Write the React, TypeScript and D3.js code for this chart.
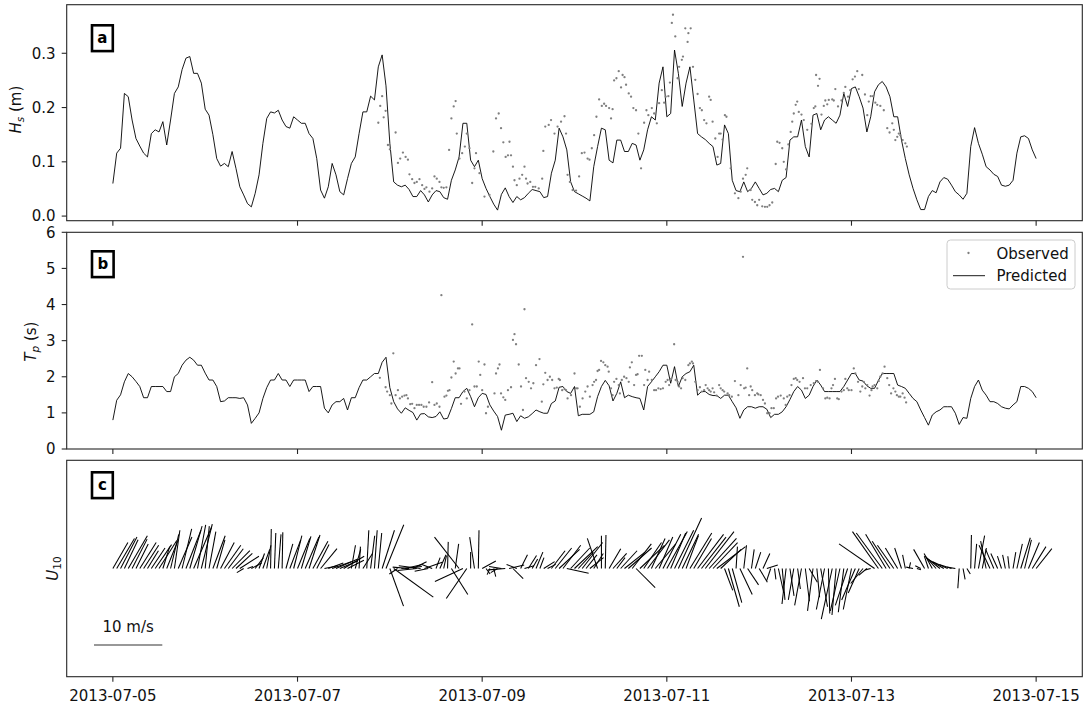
import React from "react";
import * as d3 from "d3";

// ---- time base -------------------------------------------------------------
const startUtc = Date.UTC(2013, 6, 5);
const hourMs = 3600 * 1000;
const toDate = (h: number) => new Date(startUtc + h * hourMs);
const parseDay = d3.utcParse("%Y-%m-%d");

// ---- axis ticks ------------------------------------------------------------
const dateTicks = ["2013-07-05", "2013-07-07", "2013-07-09", "2013-07-11", "2013-07-13", "2013-07-15"];
const hsTicks = [0, 0.1, 0.2, 0.3];
const tpTicks = [0, 1, 2, 3, 4, 5, 6];

// ---- model output, hourly from 2013-07-05 00:00 ----------------------------
const predStepHours = 1;
const predHs = [
  0.060, 0.116, 0.125, 0.226, 0.220, 0.177, 0.143, 0.129, 0.116, 0.109, 0.152, 0.159, 0.155, 0.174, 0.131, 0.177,
  0.226, 0.238, 0.270, 0.291, 0.294, 0.263, 0.263, 0.245, 0.197, 0.186, 0.150, 0.106, 0.092, 0.097, 0.091, 0.119,
  0.088, 0.054, 0.039, 0.023, 0.017, 0.042, 0.076, 0.134, 0.180, 0.192, 0.190, 0.195, 0.177, 0.165, 0.162, 0.183,
  0.177, 0.171, 0.171, 0.152, 0.143, 0.106, 0.048, 0.033, 0.054, 0.097, 0.076, 0.045, 0.039, 0.069, 0.097, 0.109,
  0.152, 0.192, 0.192, 0.221, 0.214, 0.275, 0.297, 0.240, 0.134, 0.063, 0.057, 0.054, 0.057, 0.049, 0.036, 0.036,
  0.047, 0.039, 0.026, 0.039, 0.047, 0.045, 0.034, 0.031, 0.066, 0.085, 0.109, 0.171, 0.171, 0.103, 0.091, 0.103,
  0.069, 0.051, 0.036, 0.022, 0.011, 0.040, 0.052, 0.036, 0.025, 0.036, 0.030, 0.034, 0.042, 0.049, 0.047, 0.045,
  0.034, 0.036, 0.079, 0.103, 0.162, 0.146, 0.122, 0.063, 0.045, 0.041, 0.037, 0.033, 0.028, 0.091, 0.128, 0.162,
  0.159, 0.103, 0.098, 0.140, 0.140, 0.119, 0.119, 0.134, 0.131, 0.103, 0.122, 0.159, 0.183, 0.177, 0.245, 0.275,
  0.183, 0.189, 0.306, 0.263, 0.202, 0.245, 0.275, 0.214, 0.152, 0.146, 0.141, 0.134, 0.128, 0.094, 0.097, 0.168,
  0.152, 0.066, 0.047, 0.045, 0.063, 0.045, 0.051, 0.063, 0.051, 0.039, 0.042, 0.049, 0.051, 0.045, 0.066, 0.071,
  0.140, 0.146, 0.146, 0.177, 0.128, 0.109, 0.186, 0.189, 0.159, 0.177, 0.183, 0.177, 0.171, 0.186, 0.226, 0.202,
  0.235, 0.238, 0.220, 0.199, 0.155, 0.183, 0.229, 0.242, 0.248, 0.238, 0.220, 0.183, 0.183, 0.140, 0.106, 0.076,
  0.051, 0.030, 0.012, 0.012, 0.036, 0.047, 0.043, 0.063, 0.071, 0.068, 0.057, 0.045, 0.039, 0.031, 0.042, 0.128,
  0.163, 0.134, 0.114, 0.091, 0.085, 0.077, 0.073, 0.057, 0.055, 0.057, 0.066, 0.116, 0.146, 0.148, 0.143, 0.122,
  0.106,
];
const predTp = [
  0.80, 1.35, 1.50, 1.86, 2.09, 2.00, 1.87, 1.73, 1.42, 1.42, 1.73, 1.73, 1.73, 1.73, 1.59, 1.59,
  2.00, 2.09, 2.32, 2.46, 2.54, 2.46, 2.32, 2.32, 2.10, 1.91, 1.91, 1.73, 1.31, 1.33, 1.42, 1.42,
  1.42, 1.40, 1.42, 1.22, 0.71, 0.85, 1.00, 1.40, 1.70, 1.91, 1.91, 2.09, 1.91, 1.91, 1.73, 1.91,
  1.91, 1.91, 1.91, 1.59, 1.73, 1.73, 1.73, 1.13, 1.00, 1.22, 1.31, 1.31, 1.40, 1.08, 1.42, 1.42,
  1.70, 1.91, 1.91, 2.00, 2.09, 2.09, 2.40, 2.54, 1.70, 1.31, 1.11, 0.99, 1.14, 1.07, 1.01, 0.80,
  0.97, 0.98, 0.89, 0.87, 0.90, 1.03, 0.83, 0.85, 1.12, 1.42, 1.42, 1.59, 1.68, 1.45, 1.17, 1.42,
  1.54, 1.51, 1.22, 1.05, 0.90, 0.52, 0.94, 0.96, 0.99, 0.76, 0.92, 0.85, 0.89, 0.98, 1.08, 1.03,
  0.99, 0.99, 1.26, 1.33, 1.71, 1.73, 1.59, 1.54, 1.73, 0.92, 0.96, 0.96, 0.96, 1.03, 1.45, 1.73,
  1.90, 1.75, 1.33, 1.54, 1.86, 1.42, 1.49, 1.45, 1.42, 1.40, 1.08, 1.73, 1.86, 2.00, 2.14, 2.32,
  2.32, 1.82, 2.28, 1.73, 2.00, 2.09, 2.14, 2.32, 1.49, 1.59, 1.59, 1.51, 1.48, 1.48, 1.40, 1.49,
  1.49, 1.31, 1.14, 0.85, 1.08, 1.17, 1.17, 1.13, 1.17, 1.17, 1.10, 0.87, 0.96, 0.96, 1.03, 1.17,
  1.37, 1.59, 1.73, 1.63, 1.40, 1.49, 1.73, 1.91, 1.77, 1.59, 1.59, 1.59, 1.59, 1.59, 1.73, 1.91,
  2.09, 2.09, 1.91, 1.88, 1.75, 1.68, 1.68, 1.90, 2.09, 2.09, 2.09, 2.09, 1.77, 1.73, 1.68, 1.54,
  1.40, 1.31, 1.08, 0.87, 0.66, 0.94, 1.03, 1.08, 1.17, 1.17, 1.17, 0.99, 0.68, 0.87, 0.85, 1.40,
  1.73, 1.91, 1.63, 1.49, 1.31, 1.31, 1.26, 1.17, 1.13, 1.11, 1.22, 1.31, 1.73, 1.73, 1.68, 1.59,
  1.42,
];

// ---- buoy observations (hours after 2013-07-05 00:00) -----------------------
const obsHsHours = [
  69.0, 69.5, 70.0, 70.4, 70.9, 71.5, 72.0, 73.5, 74.1, 74.7, 75.4, 76.1, 76.7, 77.1, 77.8, 78.4, 79.0, 79.7, 80.4, 81.0,
  81.5, 82.3, 83.0, 83.6, 84.2, 84.9, 85.4, 86.0, 86.7, 87.4, 88.0, 88.6, 89.1, 89.4, 90.1, 90.8, 91.5, 92.0, 92.7, 93.4,
  94.0, 94.4, 95.3, 96.6, 97.9, 98.9, 99.6, 100.3, 100.9, 101.5, 102.1, 102.7, 103.1, 103.5, 104.0, 104.4, 105.0, 105.7, 106.4, 107.0,
  107.4, 107.8, 108.5, 109.2, 109.8, 110.7, 111.6, 111.9, 112.4, 113.3, 113.9, 114.8, 115.6, 116.5, 117.4, 117.8, 118.2, 118.8, 119.5, 120.4,
  121.2, 121.9, 122.6, 123.4, 123.9, 124.5, 125.1, 125.7, 126.4, 127.1, 127.7, 128.2, 129.0, 129.5, 129.9, 130.3, 130.9, 131.5, 132.1, 132.5,
  133.0, 133.4, 134.1, 134.7, 135.3, 136.0, 136.6, 137.3, 138.1, 138.7, 139.2, 140.1, 140.7, 141.4, 142.0, 142.7, 143.3, 143.7, 144.4, 144.8,
  145.3, 145.6, 146.2, 146.8, 147.2, 147.9, 148.2, 148.8, 149.4, 149.6, 150.2, 150.8, 151.4, 152.0, 152.6, 153.1, 153.7, 154.3, 155.0, 155.4,
  155.9, 156.6, 157.2, 157.6, 158.0, 158.5, 159.1, 159.5, 160.6, 161.7, 162.6, 163.2, 163.8, 164.5, 164.9, 165.8, 166.2, 166.9, 167.5, 168.0,
  168.8, 169.5, 170.1, 170.7, 171.4, 172.3, 172.7, 173.3, 174.0, 174.4, 175.0, 175.6, 176.2, 176.6, 177.0, 177.5, 177.9, 178.3, 179.0, 179.6,
  180.5, 181.6, 182.2, 182.6, 182.8, 183.3, 183.7, 184.2, 184.8, 185.2, 185.7, 186.1, 187.0, 187.4, 187.8, 188.5, 189.4, 190.0, 190.4, 191.1,
  191.7, 192.3, 192.9, 193.5, 193.9, 194.8, 195.5, 196.1, 196.5, 197.0, 197.6, 198.2, 198.7, 199.5, 200.4, 201.3, 201.9, 202.6, 203.0, 203.4,
  203.9, 204.3, 204.7, 205.3, 206.0, 206.4,
];
const obsHsValues = [
  0.172, 0.203, 0.221, 0.182, 0.194, 0.131, 0.123, 0.154, 0.098, 0.106, 0.117, 0.109, 0.104, 0.077, 0.068, 0.061, 0.063, 0.068, 0.057, 0.050,
  0.053, 0.045, 0.051, 0.073, 0.069, 0.063, 0.053, 0.052, 0.053, 0.122, 0.180, 0.202, 0.212, 0.152, 0.106, 0.116, 0.128, 0.152, 0.125, 0.061,
  0.088, 0.116, 0.079, 0.036, 0.039, 0.119, 0.180, 0.189, 0.162, 0.136, 0.109, 0.112, 0.137, 0.112, 0.091, 0.066, 0.057, 0.069, 0.076, 0.091,
  0.069, 0.060, 0.063, 0.054, 0.054, 0.051, 0.069, 0.120, 0.165, 0.168, 0.177, 0.152, 0.165, 0.174, 0.184, 0.152, 0.076, 0.063, 0.048, 0.047,
  0.073, 0.116, 0.117, 0.106, 0.104, 0.125, 0.149, 0.183, 0.215, 0.203, 0.207, 0.203, 0.199, 0.180, 0.197, 0.250, 0.254, 0.267, 0.237, 0.260,
  0.256, 0.242, 0.226, 0.220, 0.199, 0.195, 0.152, 0.088, 0.172, 0.195, 0.186, 0.199, 0.189, 0.171, 0.208, 0.232, 0.209, 0.220, 0.221, 0.246,
  0.356, 0.371, 0.331, 0.254, 0.275, 0.288, 0.294, 0.346, 0.321, 0.337, 0.346, 0.275, 0.251, 0.225, 0.199, 0.195, 0.177, 0.171, 0.220, 0.214,
  0.174, 0.143, 0.109, 0.152, 0.152, 0.141, 0.186, 0.183, 0.088, 0.042, 0.033, 0.045, 0.069, 0.076, 0.088, 0.048, 0.030, 0.026, 0.020, 0.030,
  0.018, 0.017, 0.017, 0.020, 0.025, 0.096, 0.137, 0.135, 0.125, 0.100, 0.086, 0.132, 0.155, 0.174, 0.189, 0.205, 0.211, 0.192, 0.187, 0.177,
  0.159, 0.170, 0.199, 0.202, 0.260, 0.240, 0.253, 0.187, 0.203, 0.213, 0.206, 0.214, 0.215, 0.213, 0.234, 0.202, 0.213, 0.227, 0.238, 0.220,
  0.232, 0.252, 0.257, 0.267, 0.234, 0.260, 0.224, 0.186, 0.211, 0.221, 0.221, 0.209, 0.205, 0.203, 0.195, 0.162, 0.154, 0.171, 0.159, 0.140,
  0.146, 0.152, 0.149, 0.140, 0.134, 0.128,
];
const obsTpHours = [
  69.4, 70.9, 71.3, 72.0, 72.4, 72.9, 73.5, 74.1, 74.6, 75.2, 75.8, 76.3, 76.7, 77.3, 77.8, 78.4, 79.0, 79.6, 80.2, 80.8,
  81.5, 82.2, 83.0, 83.6, 84.2, 84.9, 85.4, 86.2, 86.7, 87.1, 87.5, 88.0, 88.6, 89.1, 89.7, 90.1, 90.5, 91.4, 92.0, 92.7,
  93.4, 94.0, 94.6, 95.1, 95.5, 96.0, 96.6, 97.0, 97.5, 99.2, 99.6, 100.1, 100.5, 100.9, 101.5, 102.0, 102.7, 103.5, 104.0, 104.4,
  104.8, 105.5, 106.1, 106.6, 107.0, 107.4, 108.1, 108.7, 109.3, 110.0, 110.9, 111.5, 111.9, 112.4, 113.0, 113.6, 114.2, 114.8, 115.4, 115.9,
  116.2, 116.8, 117.4, 117.8, 118.2, 119.1, 120.0, 120.4, 120.8, 121.4, 122.1, 122.8, 123.4, 124.0, 124.7, 125.1, 125.6, 126.0, 126.4, 126.9,
  127.5, 128.0, 128.6, 128.9, 129.5, 129.9, 130.3, 130.9, 131.5, 131.8, 132.3, 132.9, 133.5, 134.1, 134.4, 134.9, 135.5, 136.0, 136.4, 136.8,
  137.5, 138.1, 138.4, 139.0, 139.4, 140.1, 140.7, 141.2, 141.8, 142.4, 143.0, 143.7, 144.2, 144.6, 145.1, 145.9, 146.3, 146.8, 147.2, 147.7,
  148.1, 148.8, 149.6, 150.0, 150.5, 150.8, 151.4, 152.0, 152.6, 153.1, 153.7, 154.1, 154.6, 155.0, 155.4, 155.9, 156.3, 156.9, 157.6, 158.0,
  158.5, 158.9, 159.8, 160.2, 160.9, 161.7, 162.6, 163.2, 163.8, 164.1, 164.5, 164.9, 165.4, 165.8, 166.2, 166.9, 167.5, 167.8, 168.4, 169.0,
  169.5, 170.1, 170.7, 171.2, 171.8, 172.4, 172.9, 173.6, 174.4, 174.9, 175.3, 175.9, 176.4, 177.0, 177.5, 177.9, 178.5, 179.4, 179.9, 180.5,
  181.4, 182.2, 182.8, 183.3, 183.8, 184.6, 185.2, 185.7, 186.3, 186.8, 187.2, 187.7, 188.3, 188.7, 189.4, 190.0, 190.4, 190.9, 191.3, 192.0,
  192.6, 193.0, 193.7, 194.3, 194.8, 195.2, 195.6, 196.1, 196.7, 197.2, 197.5, 198.0, 198.7, 199.1, 199.5, 200.1, 200.6, 201.3, 201.8, 202.3,
  202.9, 203.4, 203.8, 204.3, 204.7, 205.3, 205.8, 206.2,
];
const obsTpValues = [
  1.97, 1.71, 1.59, 1.49, 1.26, 2.65, 1.49, 1.63, 1.40, 1.45, 1.48, 1.49, 1.40, 1.24, 1.25, 1.13, 1.22, 1.22, 1.22, 1.17,
  1.17, 1.29, 1.85, 1.22, 1.26, 1.17, 4.26, 1.45, 1.48, 1.61, 1.63, 1.98, 2.42, 2.09, 2.23, 2.23, 1.25, 1.59, 1.40, 1.63,
  3.45, 1.73, 1.73, 2.42, 2.05, 1.63, 2.34, 0.99, 1.17, 1.54, 2.09, 2.23, 2.34, 1.54, 1.43, 1.36, 1.63, 1.71, 3.02, 3.18,
  2.90, 2.34, 1.73, 1.08, 3.87, 1.96, 1.86, 1.68, 1.82, 2.32, 2.49, 1.31, 1.79, 2.11, 1.91, 2.00, 1.91, 1.68, 1.70, 1.94,
  1.91, 1.63, 1.66, 1.63, 1.40, 1.49, 2.09, 1.68, 1.68, 1.17, 1.40, 1.59, 1.73, 1.45, 1.77, 1.86, 1.91, 2.16, 2.19, 2.44,
  2.40, 2.32, 2.28, 2.14, 1.68, 1.49, 1.86, 1.94, 1.77, 1.54, 1.91, 2.00, 1.96, 1.86, 2.26, 2.40, 1.77, 2.05, 2.07, 2.58,
  2.58, 1.77, 2.19, 1.91, 2.14, 1.91, 1.63, 1.63, 1.68, 1.66, 1.68, 1.86, 1.91, 1.77, 1.94, 2.90, 1.91, 1.86, 1.73, 1.68,
  1.96, 1.91, 2.32, 2.37, 2.42, 2.37, 1.86, 1.63, 1.71, 1.59, 1.63, 1.77, 1.68, 1.63, 1.59, 1.68, 1.57, 1.48, 1.77, 1.68,
  1.63, 1.59, 1.54, 1.49, 1.45, 1.88, 1.49, 1.77, 5.32, 1.68, 1.70, 2.23, 1.49, 1.73, 1.63, 1.49, 1.54, 1.51, 1.49, 1.36,
  1.26, 0.99, 0.99, 1.13, 1.13, 1.40, 1.45, 1.48, 1.40, 1.22, 1.45, 1.49, 1.77, 1.94, 1.96, 1.91, 1.86, 1.96, 1.68, 1.68,
  1.77, 1.82, 1.88, 1.86, 2.19, 1.68, 1.40, 1.42, 1.40, 1.68, 1.77, 1.94, 1.40, 1.38, 1.59, 1.63, 1.94, 1.68, 1.63, 1.63,
  2.23, 2.09, 1.86, 1.59, 1.73, 1.86, 1.68, 1.77, 1.48, 1.63, 1.73, 1.77, 1.68, 1.88, 2.00, 2.09, 2.28, 1.96, 1.77, 1.54,
  1.68, 1.59, 1.49, 1.45, 1.45, 1.54, 1.42, 1.29,
];

// ---- hourly 10 m wind components (m/s), 2013-07-05 00:00 .. 2013-07-15 00:00 --
const windU = [
  2.2, 2.6, 2.4, 2.0, 2.8, 2.2, 1.8, 2.4, 2.2, 1.6, 2.0, 2.4, 2.6, 1.0,
  1.6, 1.2, 0.8, 2.0, 1.4, 2.2, 1.8, 2.6, 1.2, 1.6, 0.6, 1.0, 1.8,
  1.2, 2.0, 2.4, 2.2, 2.6, 2.4, 2.8, -1.0, 0.8, 1.5, 1.2, 0.8, 1.0, 0.6,
  0.1, 0.2, 0.4, 0.1, 1.0, 1.6, 1.2, 1.8, 1.4, 2.0, 1.6, 2.2, 1.8, 2.4, 2.0,
  2.2, 2.8, 3.2, 2.6, 3.0, 2.4, 0.6, 0.8, 0.2, 1.4, 0.3, 0.6, 0.4, 0.5, 1.8, 2.6,
  2.0, 5.8, -1.2, 3.0, 2.5, -2.4, 2.0, -2.8, -3.2, 2.6, -2.0, -1.5,
  0.6, 0.9, 0.4, 0.1, 2.4, 0.5, -3.6, -4.1, -3.0, 0.0, -0.7, 0.1,
  2.0, 0.6, -0.4, 0.3, -1.0, -1.8, -2.5, 2.2, 1.5, -1.5, 1.0, 1.4,
  1.2, 0.8, 1.0, 0.6, 1.6, 1.2, 2.0, 2.4, 3.0, 2.6, 3.2, 2.8, 3.4, 2.2, 3.0, 1.6,
  2.0, 1.4, -1.5, 0.0, 0.1, 1.7, 2.0, 1.2, 2.4,
  3.0, 3.4, 2.8, 2.8, 3.6, 2.6, 3.2, 2.0, 3.0,
  2.0, 2.6, 3.0, 2.2, 2.8, 3.4, 2.4, 1.8, 3.2, 2.6, 3.8,
  3.6, 4.2, 4.0, 3.6, 4.2, 3.0, 1.2, 1.6, 1.4, 0.2, 1.8, 0.4, 1.6,
  0.4, 0.8, 1.2, 1.0, 1.6, -0.6,
  0.2, 0.8, 0.4, -0.6, 0.6, -0.8, 0.4, -1.0, 0.6, 1.2, -0.8, 0.4, 1.0, -1.2, 0.2, -1.6, -0.6, -1.4, -0.8, -1.8,
  -1.2, -2.0, -1.6, -1.8, -1.2, -0.8,
  -5.2, -3.8, -3.8, -3.0, -2.6, -2.4, -1.8, -1.0, -0.4, 0.2,
  -1.0, 0.6, -0.8, -1.6, -0.6, -1.2, -1.6, -2.0, -2.4, -2.2, -1.8, -1.2, -0.2, 0.3, 0.5,
  0.1, 0.3, 0.9, 0.6, -0.8, -1.6, -1.2, -1.0, -0.6, -0.4, -0.2, 0.4, 0.8, 1.4, 1.0, 1.6, 2.0, 2.3,
];
const windV = [
  3.8, 4.4, 4.6, 4.2, 4.8, 4.3, 3.6, 3.8, 3.4, 2.6, 3.0, 3.5, 4.1, 3.2,
  4.0, 5.0, 5.6, 4.6, 5.8, 5.6, 6.2, 6.0, 6.4, 6.5, 6.2, 5.4, 4.8,
  4.2, 3.8, 3.4, 2.9, 2.6, 2.2, 1.8, -0.6, 0.3, 0.8, 1.6, 2.2, 2.8, 3.4,
  5.8, 5.2, 5.0, 5.3, 3.6, 4.2, 4.8, 4.4, 4.7, 4.6, 4.9, 4.0, 3.5, 2.9, 0.4,
  0.8, 1.0, 1.4, 1.1, 1.8, 1.2, 3.4, 2.8, 3.2, 2.2, 5.6, 4.8, 5.6, 5.2, 5.6, 6.4,
  -5.5, -4.2, -0.8, 0.3, 0.6, 0.2, 1.0, -0.3, 0.4, 0.9, -0.4, 0.6,
  1.6, 2.0, 1.9, 3.9, -3.8, 3.6, 4.6, -1.9, -4.4, 2.4, 4.6, 5.6,
  1.1, -0.8, -0.9, -1.2, -0.6, 0.3, -0.2, 0.5, -1.5, 0.6, 2.0, 0.4,
  1.9, 1.4, 2.4, 1.6, 1.0, 0.6, 2.6, 3.0, 2.8, 3.4, -0.7, 3.0, 3.2, 2.4, 3.8, 2.0,
  1.6, 2.2, 4.4, 4.8, 4.9, 2.9, 2.2, 1.6, 2.6,
  2.4, 3.0, 3.6, -2.8, 3.4, 3.8, 4.2, 4.4, 3.6,
  4.6, 5.0, 5.4, 5.2, 5.6, 7.4, 5.0, 4.8, 5.2, 4.4, 5.0,
  4.6, 5.4, 4.4, 3.8, 3.2, 2.8, -3.2, -5.6, -5.0, 3.2, -3.8, 3.4, -2.4,
  2.8, 2.4, -2.0, 2.2, 0.5, -1.8,
  -1.6, -3.6, -4.6, -5.2, -4.0, -4.6, -3.0, -5.4, -4.8, -2.0, -6.2, -4.2, -5.6, -6.0, -6.6, -7.4, -6.8, -6.2, -6.4, -5.4,
  -6.0, -4.6, -3.6, -2.2, -1.0, -0.2,
  3.6, 5.4, 5.2, 5.0, 4.0, 3.4, 3.0, 3.0, 2.0, 0.9,
  0.2, -0.2, 0.4, 2.8, 1.8, 2.2, 1.8, 1.6, 1.4, 1.0, 0.6, 0.2, -2.9, -1.6, -0.8,
  4.9, 3.6, 4.8, 3.0, 4.0, 3.4, 2.8, 2.2, 1.8, 2.0, 1.8, 2.4, 3.6, 4.5, 4.2, 3.8, 3.2, 2.9,
];
const windKeySpeed = 10;

const FONT = "DejaVu Sans, Liberation Sans, sans-serif";
const INK = "#111";
const FRAME = "#262626";

export default function App() {
  const width = 1085;
  const height = 706;
  const left = 66.7;
  const right = 1082.3;
  const panels = [
    { top: 4.7, bottom: 220.7 },
    { top: 232.3, bottom: 449 },
    { top: 460.3, bottom: 676.7 },
  ];
  const [pa, pb, pc] = panels;

  const x = d3.scaleUtc().domain([toDate(-12), toDate(252)]).range([left, right]);
  const yHs = d3.scaleLinear().domain([-0.0085, 0.3895]).range([pa.bottom, pa.top]);
  const yTp = d3.scaleLinear().domain([0, 6]).range([pb.bottom, pb.top]);
  const yWind = (pc.top + pc.bottom) / 2;
  const windLen = d3.scaleLinear().domain([0, windKeySpeed]).range([0, 68.3]);

  const hsLine = d3
    .line<number>()
    .x((_, i) => x(toDate(i * predStepHours)))
    .y((d) => yHs(d));
  const tpLine = d3
    .line<number>()
    .x((_, i) => x(toDate(i * predStepHours)))
    .y((d) => yTp(d));

  const tickDates = dateTicks.map((s) => parseDay(s) as Date);
  const fmtHs = d3.format(".1f");

  const xTickMarks = (p: { top: number; bottom: number }, key: string) =>
    tickDates.map((d, i) => (
      <line key={key + i} x1={x(d)} x2={x(d)} y1={p.bottom} y2={p.bottom + 5} stroke={FRAME} strokeWidth={1.1} />
    ));

  const labelBox = (letter: string, top: number, w: number) => (
    <g>
      <rect x={92} y={top + 1.3} width={w} height={25.8} fill="#fff" stroke="#000" strokeWidth={2.6} />
      <text x={92 + w / 2} y={top + 18.6} textAnchor="middle" fontWeight="bold" fontSize={15} fill="#000">
        {letter}
      </text>
    </g>
  );

  return (
    <svg
      width={width}
      height={height}
      style={{ position: "absolute", left: 0, top: 0, background: "#fff" }}
      fontFamily={FONT}
    >
      <rect x={0} y={0} width={width} height={height} fill="#fff" />

      {/* panel a: significant wave height */}
      <path d={hsLine(predHs) ?? ""} fill="none" stroke="#000" strokeWidth={0.9} strokeLinejoin="round" />
      {obsHsHours.map((h, i) => (
        <circle key={"oh" + i} cx={x(toDate(h))} cy={yHs(obsHsValues[i])} r={1.15} fill="#7f7f7f" />
      ))}
      <rect x={left} y={pa.top} width={right - left} height={pa.bottom - pa.top} fill="none" stroke={FRAME} strokeWidth={1.1} />
      {hsTicks.map((t) => (
        <g key={"hs" + t}>
          <line x1={left - 5} x2={left} y1={yHs(t)} y2={yHs(t)} stroke={FRAME} strokeWidth={1.1} />
          <text x={55.5} y={yHs(t)} dy="0.36em" textAnchor="end" fontSize={15} fill={INK}>
            {fmtHs(t)}
          </text>
        </g>
      ))}
      {xTickMarks(pa, "ta")}
      <text transform={`translate(21,${(pa.top + pa.bottom) / 2 - 3}) rotate(-90)`} textAnchor="middle" fontSize={15} fill={INK}>
        <tspan fontStyle="italic">H</tspan>
        <tspan fontStyle="italic" fontSize={10.5} dy="3">s</tspan>
        <tspan dy="-3"> (m)</tspan>
      </text>
      {labelBox("a", 24, 20.8)}

      {/* panel b: peak period */}
      <path d={tpLine(predTp) ?? ""} fill="none" stroke="#000" strokeWidth={0.9} strokeLinejoin="round" />
      {obsTpHours.map((h, i) => (
        <circle key={"ot" + i} cx={x(toDate(h))} cy={yTp(obsTpValues[i])} r={1.15} fill="#7f7f7f" />
      ))}
      <rect x={left} y={pb.top} width={right - left} height={pb.bottom - pb.top} fill="none" stroke={FRAME} strokeWidth={1.1} />
      {tpTicks.map((t) => (
        <g key={"tp" + t}>
          <line x1={left - 5} x2={left} y1={yTp(t)} y2={yTp(t)} stroke={FRAME} strokeWidth={1.1} />
          <text x={55.5} y={yTp(t)} dy="0.36em" textAnchor="end" fontSize={15} fill={INK}>
            {t}
          </text>
        </g>
      ))}
      {xTickMarks(pb, "tb")}
      <text transform={`translate(36,${(pb.top + pb.bottom) / 2 + 1}) rotate(-90)`} textAnchor="middle" fontSize={15} fill={INK}>
        <tspan fontStyle="italic">T</tspan>
        <tspan fontStyle="italic" fontSize={10.5} dy="3">p</tspan>
        <tspan dy="-3"> (s)</tspan>
      </text>
      {labelBox("b", 250, 21.6)}

      {/* legend */}
      <g>
        <rect x={947} y={240} width={128} height={49} rx={3.5} fill="#fff" fillOpacity={0.8} stroke="#cccccc" strokeWidth={1} />
        <circle cx={968.5} cy={253} r={1.15} fill="#7f7f7f" />
        <text x={996.5} y={259} fontSize={15} fill={INK}>Observed</text>
        <line x1={953} x2={985} y1={275.7} y2={275.7} stroke="#000" strokeWidth={0.9} />
        <text x={996.5} y={281} fontSize={15} fill={INK}>Predicted</text>
      </g>

      {/* panel c: wind sticks */}
      {windU.map((u, i) => {
        const x0 = x(toDate(i));
        const dx = u >= 0 ? windLen(u) : -windLen(-u);
        const v = windV[i];
        const dy = v >= 0 ? windLen(v) : -windLen(-v);
        return <line key={"w" + i} x1={x0} y1={yWind} x2={x0 + dx} y2={yWind - dy} stroke="#000" strokeWidth={1.05} />;
      })}
      <rect x={left} y={pc.top} width={right - left} height={pc.bottom - pc.top} fill="none" stroke={FRAME} strokeWidth={1.1} />
      {xTickMarks(pc, "tc")}
      {tickDates.map((d, i) => (
        <text key={"dl" + i} x={x(d)} y={700.5} textAnchor="middle" fontSize={15} fill={INK}>
          {dateTicks[i]}
        </text>
      ))}
      <text transform={`translate(58,${yWind}) rotate(-90)`} textAnchor="middle" fontSize={15} fill={INK}>
        <tspan fontStyle="italic">U</tspan>
        <tspan fontSize={10.5} dy="3">10</tspan>
      </text>
      {labelBox("c", 471, 20.8)}

      {/* wind scale key */}
      <line x1={94} x2={94 + windLen(windKeySpeed)} y1={645} y2={645} stroke="#333" strokeWidth={1.1} />
      <text x={94 + windLen(windKeySpeed) / 2} y={632} textAnchor="middle" fontSize={15} fill={INK}>
        {`${windKeySpeed} m/s`}
      </text>
    </svg>
  );
}
